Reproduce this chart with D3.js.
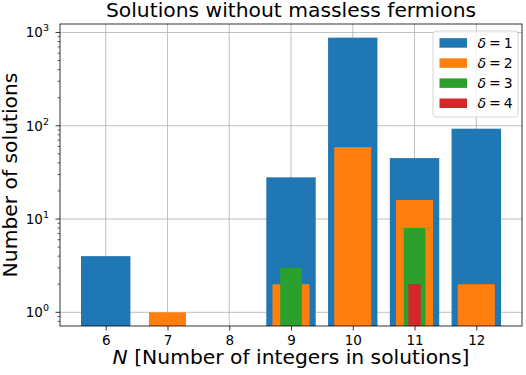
<!DOCTYPE html>
<html>
<head>
<meta charset="utf-8">
<script src="https://cdn.jsdelivr.net/npm/d3@7"></script>
<style>
  body { margin: 0; background: #fff; }
  text { font-family: "DejaVu Sans", sans-serif; fill: #000; }
</style>
</head>
<body>
<svg></svg>
<script>
const width = 526, height = 375;

// data
const nValues = [6, 7, 8, 9, 10, 11, 12];
const delta1 = [{n: 6, v: 4}, {n: 9, v: 28}, {n: 10, v: 880}, {n: 11, v: 45}, {n: 12, v: 93}];
const delta2 = [{n: 7, v: 1}, {n: 9, v: 2}, {n: 10, v: 59}, {n: 11, v: 16}, {n: 12, v: 2}];
const delta3 = [{n: 9, v: 3}, {n: 11, v: 8}];
const delta4 = [{n: 11, v: 2}];
const seriesNames = ["1", "2", "3", "4"];
const seriesColors = ["#1f77b4", "#ff7f0e", "#2ca02c", "#d62728"];
const barWidths = [0.8, 0.6, 0.35, 0.2];
const yTicks = [1, 10, 100, 1000];
const yExps = ["0", "1", "2", "3"];

const margin = {top: 24, right: 4, bottom: 49, left: 60};
const innerWidth = width - margin.left - margin.right;
const innerHeight = height - margin.top - margin.bottom;

const svg = d3.select("svg").attr("width", width).attr("height", height);
const g = svg.append("g").attr("transform", `translate(${margin.left},${margin.top})`);

const xScale = d3.scaleLinear().domain([5.26, 12.74]).range([0, innerWidth]);
const yScale = d3.scaleLog().domain([0.713, 1233]).range([innerHeight, 0]);

// grid
g.append("g").selectAll("line").data(nValues).enter().append("line")
  .attr("x1", d => xScale(d)).attr("x2", d => xScale(d))
  .attr("y1", 0).attr("y2", innerHeight)
  .attr("stroke", "#b0b0b0").attr("stroke-width", 0.8);
g.append("g").selectAll("line").data(yTicks).enter().append("line")
  .attr("y1", d => yScale(d)).attr("y2", d => yScale(d))
  .attr("x1", 0).attr("x2", innerWidth)
  .attr("stroke", "#b0b0b0").attr("stroke-width", 0.8);

// bars
const allSeries = [delta1, delta2, delta3, delta4];
allSeries.forEach((s, i) => {
  const w = barWidths[i];
  g.append("g").selectAll("rect").data(s).enter().append("rect")
    .attr("x", d => xScale(d.n - w / 2))
    .attr("width", d => xScale(d.n + w / 2) - xScale(d.n - w / 2))
    .attr("y", d => yScale(d.v))
    .attr("height", d => innerHeight - yScale(d.v))
    .attr("fill", seriesColors[i]);
});

// x axis
const xAxis = d3.axisBottom(xScale).tickValues(nValues).tickSize(4.5).tickPadding(5);
const xAxisG = g.append("g").attr("transform", `translate(0,${innerHeight})`).call(xAxis);
xAxisG.select(".domain").remove();
xAxisG.selectAll("text").attr("font-size", 13.5).attr("font-family", "DejaVu Sans");
xAxisG.selectAll("line").attr("stroke-width", 0.8);

// y axis, major + minor
const minor = [];
[0.1, 1, 10, 100].forEach(base => {
  for (let k = 2; k <= 9; k++) {
    const v = base * k;
    if (v >= 0.713 && v <= 1233) minor.push(v);
  }
});
g.append("g").selectAll("line").data(minor).enter().append("line")
  .attr("x1", -2.5).attr("x2", 0)
  .attr("y1", d => yScale(d)).attr("y2", d => yScale(d))
  .attr("stroke", "#000").attr("stroke-width", 0.6);
g.append("g").selectAll("line").data(yTicks).enter().append("line")
  .attr("x1", -4.5).attr("x2", 0)
  .attr("y1", d => yScale(d)).attr("y2", d => yScale(d))
  .attr("stroke", "#000").attr("stroke-width", 0.8);
const yLab = g.append("g").selectAll("text").data(yTicks).enter().append("text")
  .attr("x", -11).attr("y", d => yScale(d) + 5)
  .attr("text-anchor", "end").attr("font-size", 13.5);
yLab.append("tspan").text("10");
yLab.append("tspan").attr("font-size", 9.5).attr("dy", -6).text((d, i) => yExps[i]);

// frame
g.append("rect").attr("width", innerWidth).attr("height", innerHeight)
  .attr("fill", "none").attr("stroke", "#000").attr("stroke-width", 0.8);

// title and labels
svg.append("text").attr("x", margin.left + innerWidth / 2).attr("y", 17)
  .attr("text-anchor", "middle").attr("font-size", 20.3)
  .text("Solutions without massless fermions");
const xl = svg.append("text").attr("x", margin.left + innerWidth / 2).attr("y", 364)
  .attr("text-anchor", "middle").attr("font-size", 20.3);
xl.append("tspan").attr("font-style", "italic").text("N");
xl.append("tspan").text(" [Number of integers in solutions]");
svg.append("text").attr("transform", `translate(17,${margin.top + innerHeight / 2}) rotate(-90)`)
  .attr("text-anchor", "middle").attr("font-size", 20.3)
  .text("Number of solutions");

// legend
const lg = svg.append("g").attr("transform", "translate(433,31)");
lg.append("rect").attr("width", 85).attr("height", 86).attr("rx", 3)
  .attr("fill", "#fff").attr("fill-opacity", 0.8)
  .attr("stroke", "#ccc").attr("stroke-width", 0.8);
seriesNames.forEach((name, i) => {
  const row = lg.append("g").attr("transform", `translate(0,${11.7 + i * 20.1})`);
  row.append("rect").attr("x", 6.5).attr("y", -4.5).attr("width", 27.5).attr("height", 9.5)
    .attr("fill", seriesColors[i]);
  const t = row.append("text").attr("x", 44.5).attr("y", 5).attr("font-size", 14);
  t.append("tspan").attr("font-style", "italic").text("δ");
  t.append("tspan").attr("dx", 3).text("=");
  t.append("tspan").attr("dx", 3).text(name);
});
</script>
</body>
</html>
